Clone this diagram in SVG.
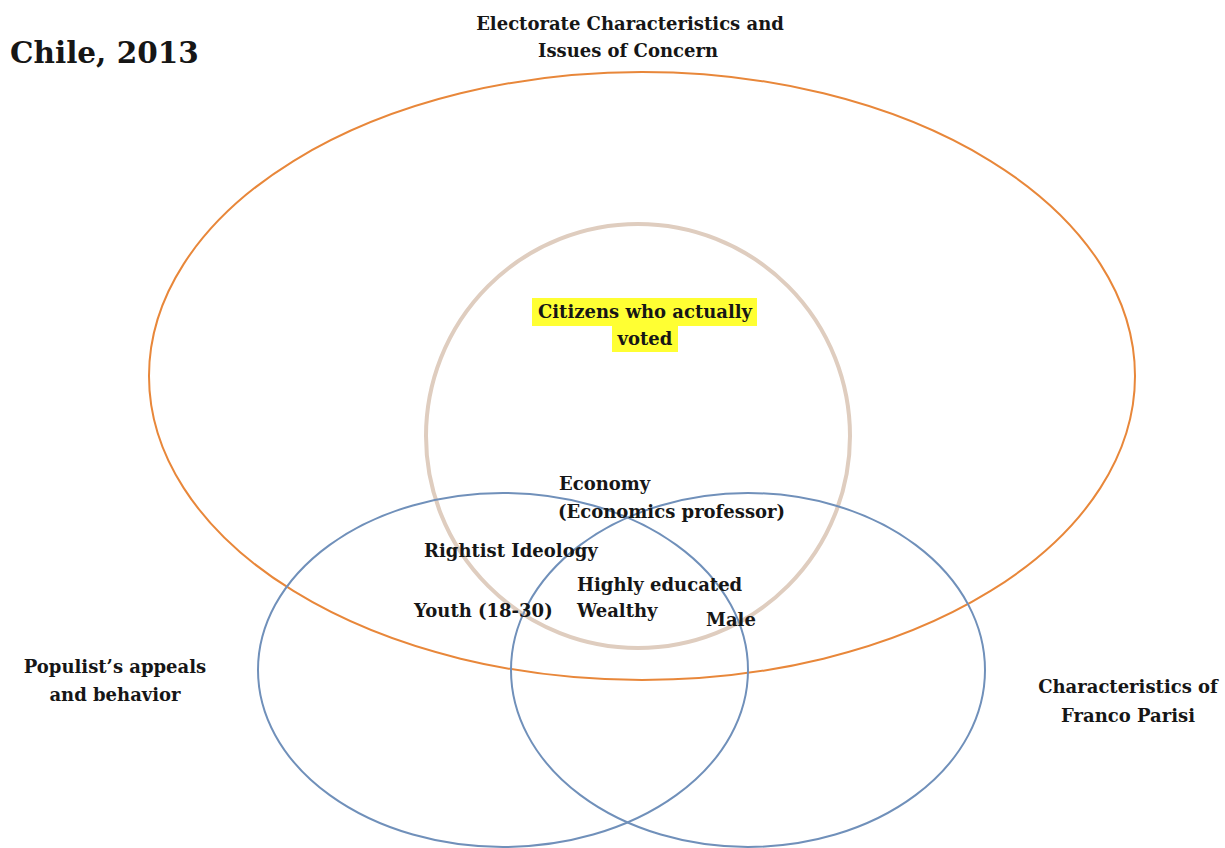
<svg xmlns="http://www.w3.org/2000/svg" width="1225" height="848" viewBox="0 0 1225 848">
  <style>
    text { font-family: "DejaVu Serif", "Liberation Serif", serif; font-weight: bold; fill: #161616; }
    .lbl { font-size: 18px; }
    .title { font-size: 29.5px; }
    .orange { fill: none; stroke: #E8873A; stroke-width: 2; }
    .tan { fill: none; stroke: #DFCDBF; stroke-width: 4; }
    .blue { fill: none; stroke: #7090BA; stroke-width: 2; }
    .hl { fill: #FFFF33; }
  </style>
  <rect width="1225" height="848" fill="#ffffff"/>

  <g id="title">
    <text class="title" x="10" y="63">Chile, 2013</text>
  </g>

  <!-- electorate set -->
  <g id="electorate">
    <ellipse class="orange" cx="642" cy="376" rx="493" ry="304"/>
    <text class="lbl" x="630" y="30" text-anchor="middle">Electorate Characteristics and</text>
    <text class="lbl" x="628" y="57" text-anchor="middle">Issues of Concern</text>
  </g>

  <!-- voters subset -->
  <g id="voters">
    <circle class="tan" cx="638" cy="436" r="212"/>
    <rect class="hl" x="532" y="298" width="225" height="28"/>
    <rect class="hl" x="612" y="326" width="66" height="26"/>
    <text class="lbl" x="645" y="318" text-anchor="middle">Citizens who actually</text>
    <text class="lbl" x="645" y="345" text-anchor="middle">voted</text>
  </g>

  <!-- populist appeals set -->
  <g id="populist">
    <ellipse class="blue" cx="503" cy="670" rx="245" ry="177"/>
    <text class="lbl" x="115" y="673" text-anchor="middle">Populist’s appeals</text>
    <text class="lbl" x="115" y="701" text-anchor="middle">and behavior</text>
  </g>

  <!-- candidate set -->
  <g id="parisi">
    <ellipse class="blue" cx="748" cy="670" rx="237" ry="177"/>
    <text class="lbl" x="1128" y="693" text-anchor="middle">Characteristics of</text>
    <text class="lbl" x="1128" y="722" text-anchor="middle">Franco Parisi</text>
  </g>

  <!-- overlap labels -->
  <g id="overlap-labels">
    <text class="lbl" x="559" y="490">Economy</text>
    <text class="lbl" x="558" y="518">(Economics professor)</text>
    <text class="lbl" x="424" y="557">Rightist Ideology</text>
    <text class="lbl" x="577" y="591">Highly educated</text>
    <text class="lbl" x="414" y="617">Youth (18-30)</text>
    <text class="lbl" x="577" y="617">Wealthy</text>
    <text class="lbl" x="706" y="626">Male</text>
  </g>
</svg>
